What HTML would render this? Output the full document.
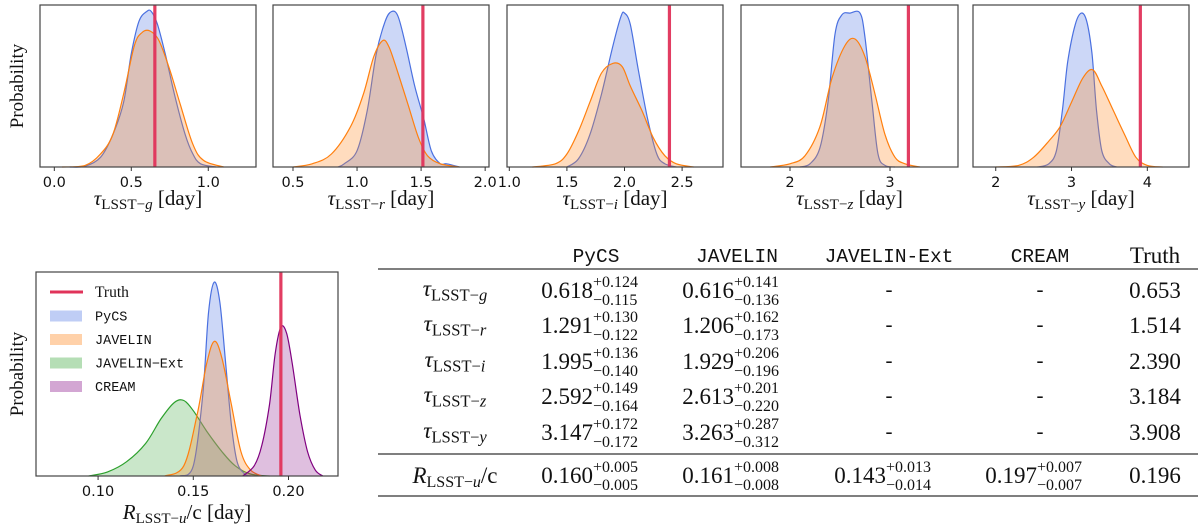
<!DOCTYPE html>
<html><head><meta charset="utf-8"><style>
html,body{margin:0;padding:0;background:#fff;}
svg{display:block;}
</style></head><body>
<svg id="fig" width="1200" height="529" viewBox="0 0 1200 529" xmlns="http://www.w3.org/2000/svg"></svg>
<script>
// ---- data ----
const topLabels = ['g','r','i','z','y'];
const topTruth = [0.653, 1.514, 2.390, 3.184, 3.908];
const topTicks = [[0.0,0.5,1.0],[0.5,1.0,1.5,2.0],[1.0,1.5,2.0,2.5],[2,3],[2,3,4]];
const topTickLabels = [['0.0','0.5','1.0'],['0.5','1.0','1.5','2.0'],['1.0','1.5','2.0','2.5'],['2','3'],['2','3','4']];
const pycsTop = [
 [[0.1,0],[0.2,0.005],[0.3,0.06],[0.38,0.2],[0.45,0.4],[0.5,0.7],[0.55,0.9],[0.6,0.96],[0.63,0.96],[0.67,0.88],[0.72,0.7],[0.78,0.45],[0.85,0.2],[0.9,0.08],[0.95,0.02],[1.05,0]],
 [[0.85,0],[0.9,0.02],[1.0,0.1],[1.08,0.35],[1.15,0.7],[1.22,0.9],[1.27,0.96],[1.32,0.93],[1.38,0.75],[1.45,0.5],[1.52,0.3],[1.58,0.1],[1.65,0.02],[1.7,0.02],[1.8,0]],
 [[1.5,0],[1.6,0.05],[1.7,0.2],[1.8,0.45],[1.9,0.75],[1.97,0.93],[2.0,0.95],[2.05,0.88],[2.12,0.6],[2.2,0.3],[2.28,0.08],[2.35,0.02],[2.45,0]],
 [[2.1,0],[2.2,0.02],[2.3,0.12],[2.38,0.4],[2.45,0.82],[2.52,0.94],[2.6,0.95],[2.7,0.95],[2.75,0.8],[2.82,0.4],[2.88,0.08],[2.95,0.01],[3.05,0]],
 [[2.55,0],[2.7,0.02],[2.8,0.1],[2.88,0.35],[2.95,0.65],[3.05,0.88],[3.13,0.95],[3.2,0.9],[3.27,0.7],[3.33,0.35],[3.4,0.1],[3.5,0.02],[3.6,0]]
];
const javelinTop = [
 [[0.05,0],[0.2,0.01],[0.3,0.08],[0.38,0.2],[0.45,0.45],[0.52,0.75],[0.57,0.83],[0.62,0.84],[0.68,0.78],[0.75,0.6],[0.82,0.38],[0.9,0.14],[0.97,0.04],[1.1,0]],
 [[0.5,0],[0.65,0.02],[0.8,0.08],[0.95,0.25],[1.05,0.45],[1.13,0.68],[1.2,0.78],[1.25,0.74],[1.32,0.58],[1.4,0.38],[1.48,0.18],[1.55,0.07],[1.65,0.02],[1.8,0]],
 [[1.2,0],[1.4,0.02],[1.5,0.08],[1.6,0.22],[1.7,0.4],[1.8,0.58],[1.9,0.64],[1.98,0.62],[2.05,0.5],[2.15,0.35],[2.25,0.18],[2.35,0.07],[2.45,0.02],[2.6,0]],
 [[1.8,0],[2.0,0.02],[2.15,0.07],[2.3,0.25],[2.42,0.55],[2.55,0.75],[2.65,0.79],[2.75,0.68],[2.85,0.45],[2.95,0.2],[3.05,0.06],[3.15,0.02],[3.3,0]],
 [[2.0,0],[2.3,0.01],[2.5,0.06],[2.7,0.16],[2.85,0.25],[3.0,0.4],[3.15,0.55],[3.28,0.6],[3.4,0.5],[3.55,0.35],[3.7,0.2],[3.85,0.06],[4.0,0.01],[4.2,0]]
];
const botTruth = 0.196;
const botTicks = [0.10,0.15,0.20];
const botTickLabels = ['0.10','0.15','0.20'];
const pycsR = [[0.143,0],[0.15,0.05],[0.155,0.4],[0.158,0.8],[0.161,0.95],[0.164,0.85],[0.167,0.55],[0.17,0.25],[0.173,0.07],[0.177,0.01],[0.18,0]];
const javelinR = [[0.135,0],[0.145,0.05],[0.152,0.3],[0.157,0.55],[0.161,0.66],[0.165,0.58],[0.17,0.35],[0.175,0.12],[0.18,0.03],[0.186,0]];
const extR = [[0.095,0],[0.105,0.02],[0.115,0.07],[0.125,0.16],[0.133,0.28],[0.14,0.36],[0.145,0.37],[0.15,0.32],[0.157,0.22],[0.165,0.12],[0.172,0.05],[0.18,0.01],[0.19,0]];
const creamR = [[0.176,0],[0.182,0.05],[0.186,0.15],[0.19,0.35],[0.193,0.6],[0.196,0.73],[0.199,0.7],[0.202,0.55],[0.206,0.3],[0.21,0.12],[0.214,0.03],[0.218,0]];
// table
const tblCols = ['PyCS','JAVELIN','JAVELIN-Ext','CREAM'];
const tblRows = ['g','r','i','z','y'];
const tblVals = [
 [['0.618','+0.124','−0.115'],['0.616','+0.141','−0.136'],null,null,'0.653'],
 [['1.291','+0.130','−0.122'],['1.206','+0.162','−0.173'],null,null,'1.514'],
 [['1.995','+0.136','−0.140'],['1.929','+0.206','−0.196'],null,null,'2.390'],
 [['2.592','+0.149','−0.164'],['2.613','+0.201','−0.220'],null,null,'3.184'],
 [['3.147','+0.172','−0.172'],['3.263','+0.287','−0.312'],null,null,'3.908']
];
const tblR = [['0.160','+0.005','−0.005'],['0.161','+0.008','−0.008'],['0.143','+0.013','−0.014'],['0.197','+0.007','−0.007'],'0.196'];

// ---- drawing ----
const NS='http://www.w3.org/2000/svg';
const svg=document.getElementById('fig');
function mk(tag,attrs,parent){const e=document.createElementNS(NS,tag);for(const k in attrs)e.setAttribute(k,attrs[k]);(parent||svg).appendChild(e);return e;}
const serif='"Liberation Serif", "DejaVu Serif", serif';
const sans='"DejaVu Sans", "Liberation Sans", sans-serif';
const mono='"Liberation Mono", "DejaVu Sans Mono", monospace';

function smooth(P){
  let d='M'+P[0][0].toFixed(1)+','+P[0][1].toFixed(1);
  for(let i=0;i<P.length-1;i++){
    const p0=P[Math.max(0,i-1)],p1=P[i],p2=P[i+1],p3=P[Math.min(P.length-1,i+2)];
    const c1x=p1[0]+(p2[0]-p0[0])/6,c1y=p1[1]+(p2[1]-p0[1])/6;
    const c2x=p2[0]-(p3[0]-p1[0])/6,c2y=p2[1]-(p3[1]-p1[1])/6;
    d+=' C'+c1x.toFixed(1)+','+c1y.toFixed(1)+' '+c2x.toFixed(1)+','+c2y.toFixed(1)+' '+p2[0].toFixed(1)+','+p2[1].toFixed(1);
  }
  return d;
}

function panel(name,x0,x1,y0,y1,xmin,xmax,series,truth,ticks,tlabels){
  const g=mk('g',{});
  
  
  const sx=v=>x0+(v-xmin)/(xmax-xmin)*(x1-x0);
  const h=y1-y0;
  const sy=v=>y1-v*h;
  series.forEach(s=>{
    const P=s.pts.map(p=>[sx(p[0]),Math.min(y1,sy(p[1]))]);
    const ld=smooth(P);
    const f=mk('path',{d:ld+' L'+P[P.length-1][0].toFixed(1)+','+y1+' L'+P[0][0].toFixed(1)+','+y1+' Z',fill:s.fill,stroke:'none'},g);
    
    
    const l=mk('path',{d:ld,fill:'none',stroke:s.line,'stroke-width':1.2,'stroke-linejoin':'round'},g);
    
    
  });
  const t=mk('line',{x1:sx(truth),x2:sx(truth),y1:y0,y2:y1,stroke:'#e0335a','stroke-width':3.2,'stroke-opacity':0.95},g);
  
  
  const fr=mk('rect',{x:x0,y:y0,width:x1-x0,height:y1-y0,fill:'none',stroke:'#444','stroke-width':1.2},g);
  
  
  ticks.forEach((v,i)=>{
    const tk=mk('line',{x1:sx(v),x2:sx(v),y1:y1,y2:y1+4,stroke:'#333','stroke-width':1},g);
    
    
    const tl=mk('text',{x:sx(v),y:y1+20,'text-anchor':'middle','font-family':sans,'font-size':14.5,fill:'#111'},g);
    tl.textContent=tlabels[i];
    
    
  });
  return {g,sx};
}
function tauLabel(parent,x,y,sub,size,anchor,extra){
  const t=mk('text',{x:x,y:y,'text-anchor':anchor||'middle','font-family':serif,'font-size':size,fill:'#111'},parent);
  const a=mk('tspan',{'font-style':'italic'},t);a.textContent='τ';
  const b=mk('tspan',{'font-size':size*0.72,dy:size*0.2},t);b.textContent='LSST−';
  const c=mk('tspan',{'font-size':size*0.72,'font-style':'italic'},t);c.textContent=sub;
  if(extra){const d=mk('tspan',{dy:-size*0.2},t);d.textContent=extra;}
  return t;
}

const tops=[[40,256,-0.093,1.31],[273,489,0.344,2.03],[507,723,0.98,2.855],[741,958,1.51,3.68],[973,1189,1.70,4.55]];
tops.forEach((p,i)=>{
  const r=panel('top-panel-'+topLabels[i],p[0],p[1],5,167,p[2],p[3],
    [{name:'pycs',pts:pycsTop[i],fill:'rgba(95,130,230,0.32)',line:'#4a70e0'},
     {name:'javelin',pts:javelinTop[i],fill:'rgba(255,140,40,0.3)',line:'#ff7f0e'}],
    topTruth[i],topTicks[i],topTickLabels[i]);
  const xl=tauLabel(r.g,(p[0]+p[1])/2,205,topLabels[i],21,'middle',' [day]');
  
  
});
const yl1=mk('text',{x:0,y:0,transform:'translate(23,86) rotate(-90)','text-anchor':'middle','font-family':serif,'font-size':19,fill:'#111'});
yl1.textContent='Probability';



// bottom panel
const bp=panel('bottom-panel-r',36,338,272,476,0.0674,0.226,
  [{name:'javelin-ext',pts:extR,fill:'rgba(44,160,44,0.25)',line:'#2ca02c'},
   {name:'pycs',pts:pycsR,fill:'rgba(95,130,230,0.32)',line:'#4a70e0'},
   {name:'javelin',pts:javelinR,fill:'rgba(255,140,40,0.3)',line:'#ff7f0e'},
   {name:'cream',pts:creamR,fill:'rgba(128,0,128,0.25)',line:'#800080'}],
  botTruth,botTicks,botTickLabels);
{
  const t=mk('text',{x:187,y:519,'text-anchor':'middle','font-family':serif,'font-size':21,fill:'#111'},bp.g);
  const a=mk('tspan',{'font-style':'italic'},t);a.textContent='R';
  const b=mk('tspan',{'font-size':15,dy:4},t);b.textContent='LSST−';
  const c=mk('tspan',{'font-size':15,'font-style':'italic'},t);c.textContent='u';
  const d=mk('tspan',{dy:-4},t);d.textContent='/c [day]';
  
  
}
const yl2=mk('text',{x:0,y:0,transform:'translate(23,374) rotate(-90)','text-anchor':'middle','font-family':serif,'font-size':19,fill:'#111'});
yl2.textContent='Probability';



// legend
const leg=mk('g',{});


const legItems=[['Truth',null,serif],['PyCS','rgba(95,130,230,0.4)',mono],['JAVELIN','rgba(255,140,40,0.4)',mono],['JAVELIN−Ext','rgba(44,160,44,0.35)',mono],['CREAM','rgba(128,0,128,0.35)',mono]];
legItems.forEach((it,i)=>{
  const y=292+i*23.5;
  if(it[1]===null){const l=mk('line',{x1:50,x2:83,y1:y,y2:y,stroke:'#e0335a','stroke-width':3},leg);}
  else{const r=mk('rect',{x:50,y:y-5,width:32,height:11,fill:it[1]},leg);}
  const t=mk('text',{x:95,y:y+5,'font-family':it[2],'font-size':it[2]===mono?13.5:15.5,fill:'#111'},leg);
  t.textContent=it[0];
  
  
});

// table
const tb=mk('g',{});


const colX=[596,737,889,1040];
const truthX=1155;
colX.forEach((x,i)=>{
  const t=mk('text',{x:x,y:262,'text-anchor':'middle','font-family':mono,'font-size':19.5,fill:'#111'},tb);
  t.textContent=tblCols[i];
  
  
});
{const t=mk('text',{x:truthX,y:263,'text-anchor':'middle','font-family':serif,'font-size':23,fill:'#111'},tb);t.textContent='Truth';}
[[269,1.6],[454,1.6],[496,1.6]].forEach(l=>{const e=mk('line',{x1:378,x2:1198,y1:l[0],y2:l[0],stroke:'#555','stroke-width':l[1]},tb);});
function cell(x,y,v){
  if(v===null){const t=mk('text',{x:x,y:y+6,'text-anchor':'middle','font-family':serif,'font-size':21,fill:'#111'},tb);t.textContent='-';return;}
  if(typeof v==='string'){const t=mk('text',{x:x,y:y+8,'text-anchor':'middle','font-family':serif,'font-size':23,fill:'#111'},tb);t.textContent=v;return;}
  const m=mk('text',{x:x-3,y:y+8,'text-anchor':'end','font-family':serif,'font-size':23,fill:'#111'},tb);m.textContent=v[0];
  
  const s=mk('text',{x:x-3,y:y-3,'font-family':serif,'font-size':16,fill:'#111'},tb);s.textContent=v[1];
  
  const b=mk('text',{x:x-3,y:y+15,'font-family':serif,'font-size':16,fill:'#111'},tb);b.textContent=v[2];
  
}
const rowY=[290,325,361,396,432];
tblRows.forEach((r,i)=>{
  const lab=tauLabel(tb,455,rowY[i]+6,r,23,'middle');
  
  
  tblVals[i].forEach((v,j)=>cell(j<4?colX[j]:truthX,rowY[i],v));
});
{
  const y=475;
  const t=mk('text',{x:455,y:y+8,'text-anchor':'middle','font-family':serif,'font-size':23,fill:'#111'},tb);
  const a=mk('tspan',{'font-style':'italic'},t);a.textContent='R';
  const b=mk('tspan',{'font-size':16,dy:4},t);b.textContent='LSST−';
  const c=mk('tspan',{'font-size':16,'font-style':'italic'},t);c.textContent='u';
  const d=mk('tspan',{dy:-4},t);d.textContent='/c';
  
  
  tblR.forEach((v,j)=>cell(j<4?colX[j]:truthX,y,v));
}
</script>
</body></html>
